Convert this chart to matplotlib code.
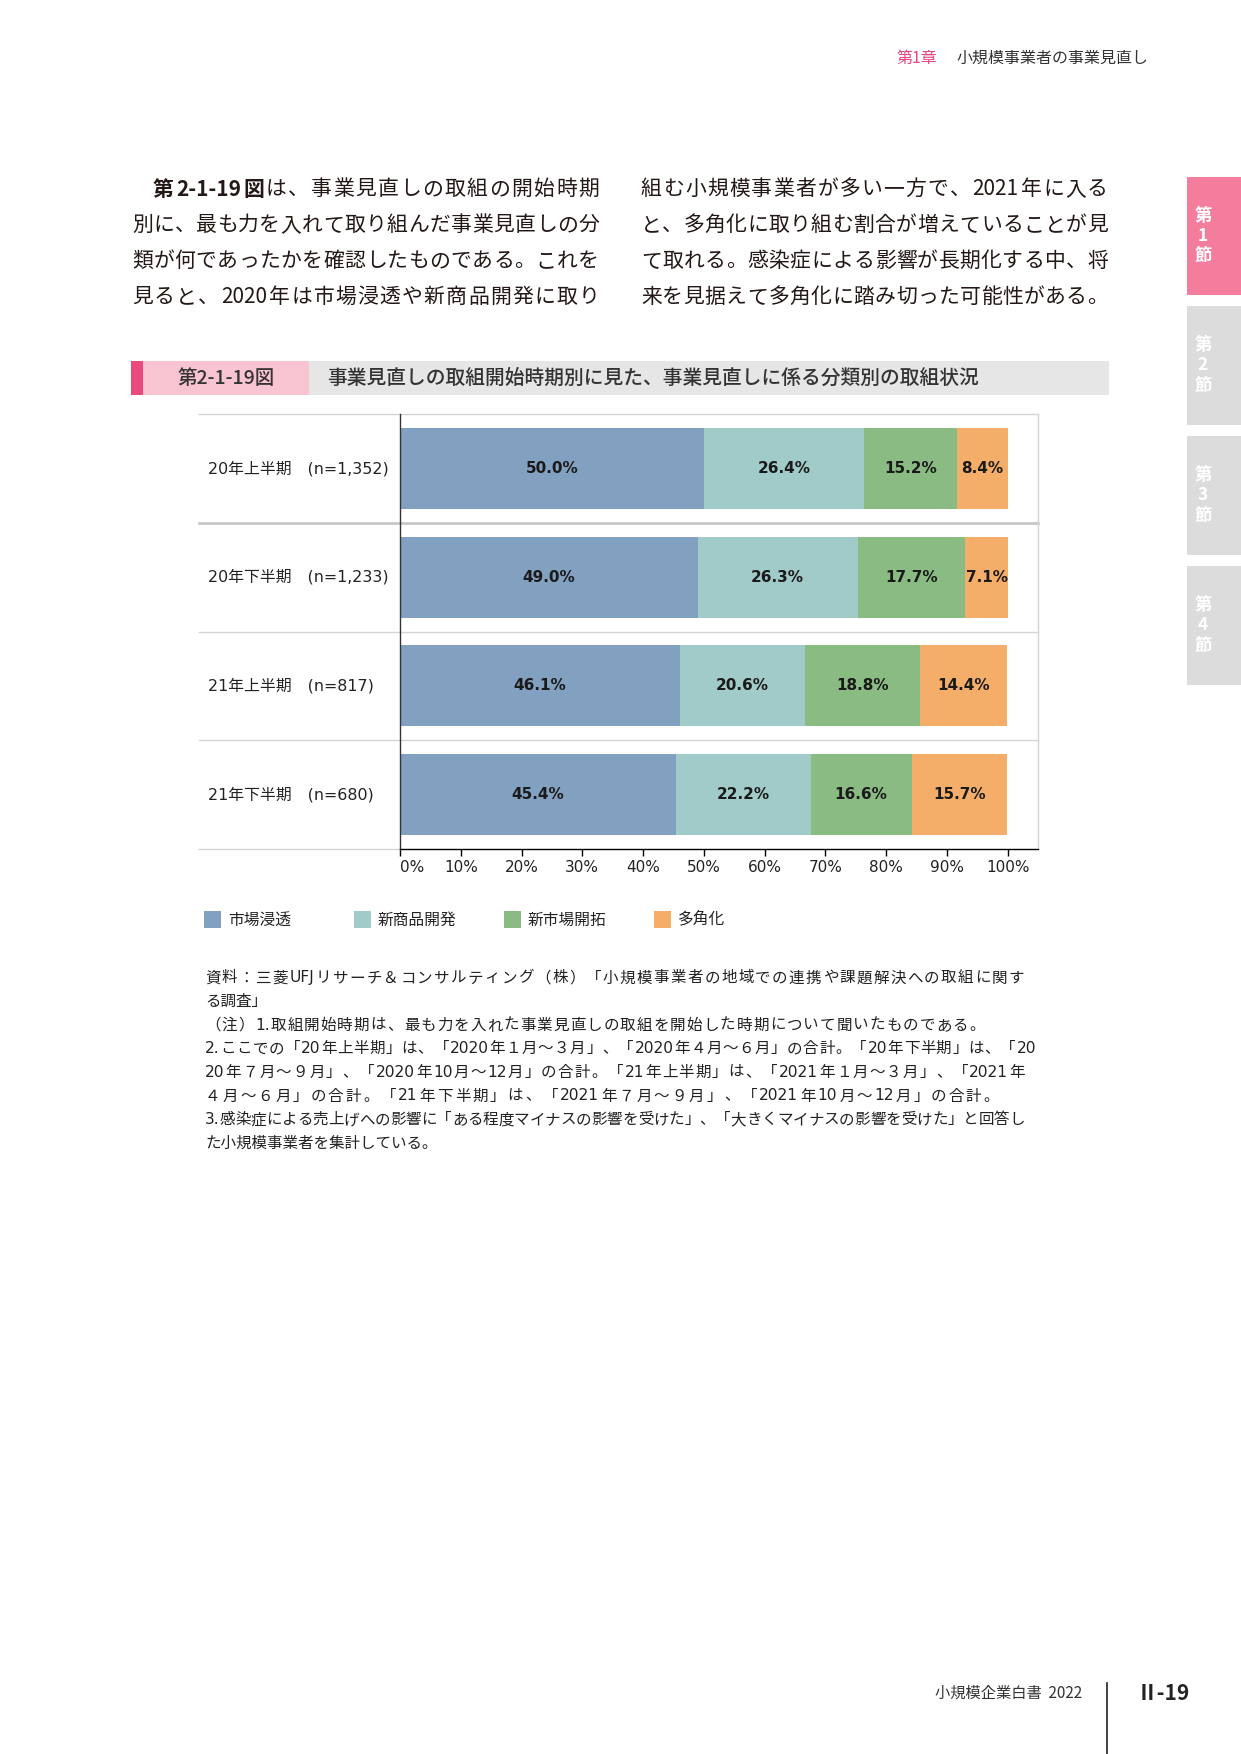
import matplotlib
matplotlib.use('Agg')
import matplotlib.pyplot as plt
from matplotlib.patches import Rectangle
import matplotlib.transforms as mtrans
import numpy as np

# ---------------- data ----------------
categories = ['20年上半期　(n=1,352)', '20年下半期　(n=1,233)',
              '21年上半期　(n=817)', '21年下半期　(n=680)']
series_names = ['市場浸透', '新商品開発', '新市場開拓', '多角化']
market_penetration = [50.0, 49.0, 46.1, 45.4]
new_product = [26.4, 26.3, 20.6, 22.2]
new_market = [15.2, 17.7, 18.8, 16.6]
diversification = [8.4, 7.1, 14.4, 15.7]
xtick_values = [0, 10, 20, 30, 40, 50, 60, 70, 80, 90, 100]
xtick_labels = ['0%', '10%', '20%', '30%', '40%', '50%', '60%', '70%', '80%', '90%', '100%']

colors = ['#82A1C0', '#A1CBC8', '#89BB83', '#F5AE69']

header_chapter = '第1章'
header_title = '小規模事業者の事業見直し'
body_left = ['は、事業見直しの取組の開始時期',
             '別に、最も力を入れて取り組んだ事業見直しの分',
             '類が何であったかを確認したものである。これを',
             '見ると、2020年は市場浸透や新商品開発に取り']
body_right = ['組む小規模事業者が多い一方で、2021年に入る',
              'と、多角化に取り組む割合が増えていることが見',
              'て取れる。感染症による影響が長期化する中、将',
              '来を見据えて多角化に踏み切った可能性がある。']
fig_no = '第2-1-19図'
fig_title = '事業見直しの取組開始時期別に見た、事業見直しに係る分類別の取組状況'
notes = ['資料：三菱UFJリサーチ＆コンサルティング（株）「小規模事業者の地域での連携や課題解決への取組に関す',
         'る調査」',
         '（注）1.取組開始時期は、最も力を入れた事業見直しの取組を開始した時期について聞いたものである。',
         '2.ここでの「20年上半期」は、「2020年１月～３月」、「2020年４月～６月」の合計。「20年下半期」は、「20',
         '20年７月～９月」、「2020年10月～12月」の合計。「21年上半期」は、「2021年１月～３月」、「2021年',
         '４月～６月」の合計。「21年下半期」は、「2021年７月～９月」、「2021年10月～12月」の合計。',
         '3.感染症による売上げへの影響に「ある程度マイナスの影響を受けた」、「大きくマイナスの影響を受けた」と回答し',
         'た小規模事業者を集計している。']
tabs = ['1', '2', '3', '4']
footer_book = '小規模企業白書  2022'
footer_page = 'Ⅱ-19'

# ---------------- fonts ----------------
JP = ['Noto Sans CJK JP', 'DejaVu Sans']
CH = ['DejaVu Sans', 'Noto Sans CJK JP']
plt.rcParams['font.family'] = JP

W, H = 1241, 1754
DPI = 100
fig = plt.figure(figsize=(W / DPI, H / DPI), dpi=DPI)
renderer = fig.canvas.get_renderer()


def fx(px):
    return px / W


def fy(py):
    return 1 - py / H


def rect(x0, y0, x1, y1, color):
    fig.add_artist(Rectangle((fx(x0), fy(y1)), (x1 - x0) / W, (y1 - y0) / H,
                             transform=fig.transFigure, facecolor=color,
                             edgecolor='none', zorder=0))


def justify(segments, x0, x1, y, fontsize, color='#231815', family=JP,
            ascii_pad=0.1):
    """Draw a line of Japanese text spread between x0 and x1 (pixels)."""
    tokens = []
    for txt, wt in segments:
        buf = ''
        for ch in txt:
            if ord(ch) < 128:
                buf += ch
            else:
                if buf:
                    tokens.append((buf, wt, False))
                    buf = ''
                tokens.append((ch, wt, True))
        if buf:
            tokens.append((buf, wt, False))
    em = fontsize * DPI / 72.0
    arts, widths = [], []
    for t, wt, full in tokens:
        a = fig.text(0, fy(y), t, fontsize=fontsize, fontweight=wt,
                     color=color, ha='left', va='center', family=family)
        arts.append(a)
        if full:
            widths.append(em)
        else:
            widths.append(a.get_window_extent(renderer).width + ascii_pad * em)
    gap = (x1 - x0 - sum(widths)) / max(len(tokens) - 1, 1)
    x = x0
    for a, w, (t, wt, full) in zip(arts, widths, tokens):
        a.set_x(fx(x + (0.5 * ascii_pad * em if not full else 0)))
        x += w + gap


# ---------------- page header ----------------
fig.text(fx(896), fy(58), header_chapter, color='#E8457A', fontsize=11.5,
         va='center', ha='left', family=JP)
fig.text(fx(957), fy(58), header_title, color='#333333', fontsize=11.5,
         va='center', ha='left', family=JP)

# ---------------- side tabs ----------------
tab_y = [(177, 295), (306, 425), (436, 555), (566, 685)]
for i, (t, (y0, y1)) in enumerate(zip(tabs, tab_y)):
    rect(1187, y0, 1241, y1, '#F47C9C' if i == 0 else '#DCDCDC')
    yc = (y0 + y1) / 2
    for k, ch in enumerate(['第', t, '節']):
        fig.text(fx(1203), fy(yc - 20 + 20 * k), ch, color='white',
                 fontsize=12.5, fontweight='bold', ha='center', va='center',
                 family=JP)

# ---------------- body text ----------------
body_y = [189, 225, 261, 297]
justify([(fig_no, 'bold'), (body_left[0], 'normal')], 153, 599, body_y[0], 15)
for i in range(1, 4):
    justify([(body_left[i], 'normal')], 132, 599, body_y[i], 15)
for i in range(4):
    justify([(body_right[i], 'normal')], 641, 1108, body_y[i], 15)

# ---------------- figure title bar ----------------
rect(131, 361, 143, 395, '#EA4A7C')
rect(143, 361, 309, 395, '#F9C4D1')
rect(309, 361, 1109, 395, '#E6E6E6')
fig.text(fx(226), fy(378), fig_no, fontsize=14, color='#333333',
         ha='center', va='center', family=JP, fontweight='medium')
fig.text(fx(327), fy(378), fig_title, fontsize=14.2, color='#333333',
         ha='left', va='center', family=JP, fontweight='medium')

# ---------------- chart ----------------
ax_l, ax_r, ax_t, ax_b = 400, 1038, 414, 849
ax = fig.add_axes([fx(ax_l), fy(ax_b), (ax_r - ax_l) / W, (ax_b - ax_t) / H])
series = [market_penetration, new_product, new_market, diversification]
ypos = np.arange(len(categories))
left = np.zeros(len(categories))
for vals, name, col in zip(series, series_names, colors):
    bars = ax.barh(ypos, vals, left=left, height=0.745, color=col,
                   label=name, zorder=2)
    ax.bar_label(bars, labels=[f'{v:.1f}%' for v in vals], label_type='center',
                 fontsize=11, fontweight='bold', color='#1A1A1A',
                 family=CH)
    left = left + np.array(vals)

ax.set_xlim(0, 105)
ax.set_ylim(len(categories) - 0.5, -0.5)
ax.set_xticks(xtick_values)
ax.set_xticklabels(xtick_labels, family=CH, fontsize=11)
ax.get_xticklabels()[0].set_ha('left')
ax.tick_params(axis='x', direction='out', length=5, width=1, pad=3,
               colors='#000000', labelcolor='#222222')
ax.tick_params(axis='y', left=False, labelleft=False)
for s in ['top', 'right']:
    ax.spines[s].set_visible(False)
ax.spines['left'].set_color('#333333')
ax.spines['left'].set_linewidth(1)
ax.spines['bottom'].set_color('#000000')
ax.spines['bottom'].set_linewidth(1)

blend = mtrans.blended_transform_factory(ax.transAxes, ax.transData)
x_start = (199 - ax_l) / (ax_r - ax_l)
label_x = (208 - ax_l) / (ax_r - ax_l)
for yi, cat in zip(ypos, categories):
    ax.text(label_x, yi, cat, transform=blend, ha='left', va='center',
            fontsize=11.4, color='#222222', family=CH)
# frame / separator lines
for k, yb in enumerate(np.arange(-0.5, len(categories) - 0.5, 1.0)):
    ax.plot([x_start, 1], [yb, yb], transform=blend, clip_on=False,
            color='#C8C8C8' if k == 1 else '#D4D4D4',
            lw=2 if k == 1 else 1, zorder=1)
ax.plot([x_start, 0], [len(categories) - 0.5] * 2, transform=blend,
        clip_on=False, color='#D4D4D4', lw=1)
ax.plot([1, 1], [-0.5, len(categories) - 0.5], transform=blend,
        clip_on=False, color='#D4D4D4', lw=1)

# ---------------- legend ----------------
for i, (name, col) in enumerate(zip(series_names, colors)):
    x0 = 204 + 150 * i
    rect(x0, 911, x0 + 17, 928, col)
    fig.text(fx(x0 + 24), fy(920), name, fontsize=11.3, color='#222222',
             ha='left', va='center', family=CH)

# ---------------- notes ----------------
note_ends = [1024, None, 985, 1036, 1025, 999, 1025, None]
for i, (line, end) in enumerate(zip(notes, note_ends)):
    yy = 978 + 23.6 * i
    if end is None:
        fig.text(fx(205), fy(yy), line, fontsize=11.2,
                 color='#222222', ha='left', va='center', family=CH)
    else:
        justify([(line, 'normal')], 205, end, yy, 11.2, color='#222222',
                family=CH, ascii_pad=0.0)

# ---------------- footer ----------------
fig.text(fx(935), fy(1693), footer_book, fontsize=11, color='#333333',
         ha='left', va='center', family=JP)
fig.add_artist(plt.Line2D([fx(1107), fx(1107)], [fy(1683), fy(1754)],
                          transform=fig.transFigure, color='#222222', lw=1.2))
fig.text(fx(1137), fy(1693), footer_page, fontsize=15, fontweight='bold',
         color='#222222', ha='left', va='center', family=JP)

fig.savefig('out.png', dpi=DPI)
